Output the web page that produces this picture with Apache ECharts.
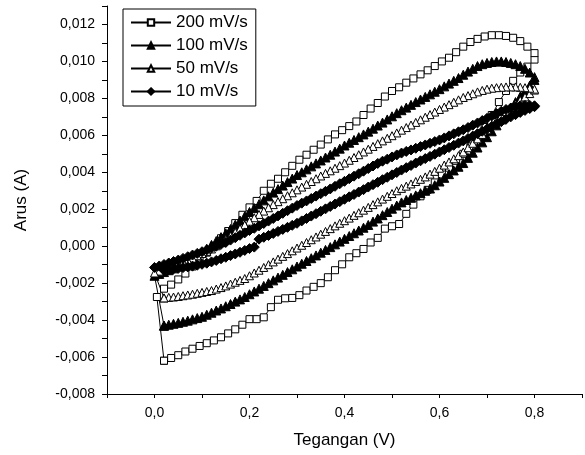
<!DOCTYPE html>
<html>
<head>
<meta charset="utf-8">
<script src="https://cdn.jsdelivr.net/npm/echarts@6/dist/echarts.min.js"></script>
<style>
html,body{margin:0;padding:0;background:#fff;}
#chart{width:585px;height:455px;}
</style>
</head>
<body>
<div id="chart"></div>
<script>
// Series names (legend)
const seriesNames = ['200 mV/s', '100 mV/s', '50 mV/s', '10 mV/s'];

// Potential grids (V)
const vLow200 = [0.020,0.035,0.050,0.065,0.080,0.095,0.110,0.125,0.140,0.155,0.170,0.185,0.200,0.215,0.230,0.245,0.260,0.275,0.290,0.305,0.320,0.335,0.350,0.365,0.380,0.395,0.410,0.425,0.440,0.455,0.470,0.485,0.500,0.515,0.530,0.545,0.560,0.575,0.590,0.605,0.620,0.635,0.650,0.665,0.680,0.695,0.710,0.725,0.740,0.755,0.770,0.785,0.800];
const vUp200 = [0.800,0.785,0.770,0.755,0.740,0.725,0.710,0.695,0.680,0.665,0.650,0.635,0.620,0.605,0.590,0.575,0.560,0.545,0.530,0.515,0.500,0.485,0.470,0.455,0.440,0.425,0.410,0.395,0.380,0.365,0.350,0.335,0.320,0.305,0.290,0.275,0.260,0.245,0.230,0.215,0.200,0.185,0.170,0.155,0.140,0.125,0.110,0.095,0.080,0.065,0.050,0.035,0.020,0.005];
const vLow = [0.02,0.03,0.04,0.05,0.06,0.07,0.08,0.09,0.10,0.11,0.12,0.13,0.14,0.15,0.16,0.17,0.18,0.19,0.20,0.21,0.22,0.23,0.24,0.25,0.26,0.27,0.28,0.29,0.30,0.31,0.32,0.33,0.34,0.35,0.36,0.37,0.38,0.39,0.40,0.41,0.42,0.43,0.44,0.45,0.46,0.47,0.48,0.49,0.50,0.51,0.52,0.53,0.54,0.55,0.56,0.57,0.58,0.59,0.60,0.61,0.62,0.63,0.64,0.65,0.66,0.67,0.68,0.69,0.70,0.71,0.72,0.73,0.74,0.75,0.76,0.77,0.78,0.79,0.80];
const vUp = [0.80,0.79,0.78,0.77,0.76,0.75,0.74,0.73,0.72,0.71,0.70,0.69,0.68,0.67,0.66,0.65,0.64,0.63,0.62,0.61,0.60,0.59,0.58,0.57,0.56,0.55,0.54,0.53,0.52,0.51,0.50,0.49,0.48,0.47,0.46,0.45,0.44,0.43,0.42,0.41,0.40,0.39,0.38,0.37,0.36,0.35,0.34,0.33,0.32,0.31,0.30,0.29,0.28,0.27,0.26,0.25,0.24,0.23,0.22,0.21,0.20,0.19,0.18,0.17,0.16,0.15,0.14,0.13,0.12,0.11,0.10,0.09,0.08,0.07,0.06,0.05,0.04,0.03,0.02,0.01,0.00];

// Currents (mA) — 200 mV/s
const iLow200 = [-6.2,-6.05,-5.9,-5.7,-5.55,-5.4,-5.25,-5.1,-4.93,-4.72,-4.5,-4.25,-3.95,-3.95,-3.85,-3.3,-2.9,-2.82,-2.8,-2.65,-2.4,-2.2,-2.0,-1.68,-1.3,-0.98,-0.6,-0.38,-0.15,0.2,0.45,0.95,1.08,1.2,1.75,2.25,2.7,3.05,3.45,3.88,4.25,4.62,5.0,5.4,5.95,6.45,7.1,7.8,8.4,8.95,9.4,9.72,10.1];
const iUp200 = [10.45,10.8,11.1,11.28,11.38,11.42,11.42,11.35,11.22,11.05,10.8,10.5,10.2,10.0,9.75,9.52,9.3,9.08,8.85,8.6,8.4,8.1,7.75,7.45,7.1,6.75,6.5,6.28,6.05,5.78,5.5,5.22,4.95,4.68,4.35,4.0,3.65,3.38,3.0,2.45,2.1,1.7,1.25,0.82,0.43,0.02,-0.35,-0.72,-1.1,-1.48,-1.8,-2.08,-2.3,-2.75];

// 100 mV/s
const iLow100 = [-4.3,-4.25,-4.2,-4.15,-4.09,-4.03,-3.96,-3.89,-3.82,-3.71,-3.6,-3.48,-3.37,-3.25,-3.13,-3.0,-2.88,-2.75,-2.6,-2.45,-2.3,-2.15,-2.0,-1.85,-1.7,-1.55,-1.4,-1.25,-1.1,-0.95,-0.8,-0.65,-0.5,-0.35,-0.2,-0.05,0.1,0.25,0.4,0.55,0.7,0.85,1.0,1.15,1.33,1.5,1.68,1.85,2.03,2.2,2.37,2.5,2.62,2.75,2.87,3.0,3.12,3.3,3.5,3.7,3.9,4.1,4.3,4.5,4.78,5.06,5.34,5.62,5.9,6.22,6.54,6.86,7.18,7.5,7.8,8.1,8.4,8.7,9.0];
const iUp100 = [9.15,9.4,9.6,9.75,9.85,9.92,9.97,10.0,10.0,9.97,9.92,9.85,9.75,9.6,9.45,9.28,9.1,8.95,8.8,8.65,8.5,8.36,8.22,8.08,7.94,7.8,7.65,7.5,7.36,7.2,7.03,6.86,6.69,6.53,6.36,6.2,6.05,5.9,5.75,5.6,5.45,5.28,5.12,4.95,4.8,4.64,4.48,4.32,4.16,4.0,3.85,3.66,3.47,3.28,3.09,2.9,2.7,2.48,2.27,2.06,1.85,1.62,1.39,1.16,0.93,0.7,0.49,0.28,0.07,-0.14,-0.35,-0.5,-0.65,-0.8,-0.95,-1.1,-1.2,-1.3,-1.4,-1.5,-1.6];

// 50 mV/s
const iLow50 = [-2.8,-2.77,-2.75,-2.72,-2.68,-2.64,-2.6,-2.55,-2.5,-2.45,-2.4,-2.32,-2.24,-2.15,-2.05,-1.95,-1.85,-1.75,-1.6,-1.45,-1.3,-1.15,-1.0,-0.85,-0.7,-0.55,-0.4,-0.25,-0.1,0.05,0.2,0.35,0.5,0.65,0.8,0.95,1.1,1.24,1.38,1.52,1.67,1.81,1.95,2.1,2.25,2.4,2.55,2.7,2.85,3.0,3.13,3.25,3.37,3.5,3.62,3.75,3.9,4.05,4.22,4.39,4.56,4.73,4.9,5.1,5.33,5.57,5.81,6.05,6.3,6.55,6.8,7.05,7.28,7.5,7.7,7.9,8.08,8.26,8.45];
const iUp50 = [8.5,8.55,8.58,8.6,8.62,8.62,8.62,8.6,8.58,8.55,8.5,8.43,8.35,8.25,8.15,8.05,7.92,7.79,7.66,7.53,7.4,7.26,7.12,6.98,6.84,6.7,6.56,6.42,6.28,6.13,5.98,5.84,5.7,5.55,5.4,5.25,5.1,4.95,4.8,4.65,4.5,4.36,4.22,4.08,3.94,3.8,3.65,3.5,3.35,3.2,3.05,2.89,2.73,2.57,2.41,2.25,2.08,1.9,1.72,1.54,1.35,1.15,0.95,0.75,0.55,0.37,0.19,0.02,-0.15,-0.28,-0.4,-0.52,-0.65,-0.75,-0.85,-0.95,-1.05,-1.15,-1.25,-1.35,-1.45];

// 10 mV/s
const iLow10 = [-1.3,-1.27,-1.23,-1.2,-1.16,-1.12,-1.08,-1.03,-0.98,-0.92,-0.85,-0.77,-0.68,-0.6,-0.51,-0.42,-0.33,-0.23,-0.13,-0.05,0.38,0.48,0.58,0.69,0.8,0.91,1.02,1.13,1.24,1.37,1.5,1.63,1.76,1.89,2.02,2.15,2.28,2.41,2.54,2.67,2.8,2.93,3.06,3.2,3.33,3.46,3.6,3.73,3.86,3.99,4.12,4.25,4.37,4.5,4.62,4.74,4.86,4.98,5.1,5.22,5.34,5.46,5.58,5.7,5.83,5.96,6.09,6.22,6.35,6.48,6.61,6.74,6.87,7.0,7.12,7.24,7.35,7.45,7.55];
const iUp10 = [7.6,7.62,7.62,7.6,7.55,7.48,7.4,7.3,7.18,7.05,6.92,6.8,6.67,6.55,6.42,6.3,6.19,6.08,5.97,5.86,5.75,5.66,5.57,5.48,5.39,5.3,5.21,5.13,5.04,4.94,4.83,4.71,4.6,4.48,4.34,4.2,4.06,3.92,3.79,3.65,3.51,3.38,3.24,3.1,2.97,2.84,2.71,2.58,2.45,2.33,2.2,2.06,1.92,1.78,1.64,1.5,1.36,1.23,1.1,0.97,0.85,0.72,0.59,0.46,0.33,0.2,0.1,0.0,-0.1,-0.2,-0.3,-0.39,-0.48,-0.57,-0.66,-0.75,-0.83,-0.91,-0.99,-1.07,-1.15];

function loopData(vl, il, vu, iu) {
  const pts = vl.map((v, k) => [v, il[k]]).concat(vu.map((v, k) => [v, iu[k]]));
  pts.push(pts[0]);
  return pts;
}

const FONT = '"Liberation Sans", Arial, sans-serif';

function mkSeries(name, data, symbol, size, fill) {
  return {
    name: name,
    type: 'line',
    data: data,
    symbol: symbol,
    symbolSize: size,
    showAllSymbol: true,
    sampling: null,
    smooth: false,
    lineStyle: { color: '#000', width: 1 },
    itemStyle: { color: fill, borderColor: '#000', borderWidth: 1 },
    emphasis: { disabled: true },
    animation: false
  };
}

const chart = echarts.init(document.getElementById('chart'), null, { renderer: 'canvas' });
chart.setOption({
  animation: false,
  backgroundColor: '#fff',
  grid: { left: 107, right: 2, top: 6, bottom: 61, containLabel: false },
  legend: {
    orient: 'vertical',
    left: 123,
    top: 9,
    padding: [5, 8, 6, 7],
    itemGap: 6,
    itemWidth: 40,
    itemHeight: 8,
    borderColor: '#000',
    borderWidth: 1,
    borderRadius: 0,
    textStyle: { fontSize: 17, color: '#000', fontFamily: FONT },
    data: seriesNames
  },
  xAxis: {
    type: 'value',
    min: -0.1,
    max: 0.9,
    interval: 0.1,
    name: 'Tegangan (V)',
    nameLocation: 'middle',
    nameGap: 38,
    nameTextStyle: { fontSize: 17, color: '#000', fontFamily: FONT },
    axisLine: { show: true, onZero: false, lineStyle: { color: '#000', width: 1 } },
    axisTick: { show: true, inside: false, length: 4, lineStyle: { color: '#000' } },
    axisLabel: {
      fontSize: 14, color: '#000', fontFamily: FONT, margin: 12,
      formatter: function (v) {
        const k = Math.round(v * 10);
        if (k % 2 !== 0) return '';
        return (k / 10).toFixed(1).replace('.', ',');
      }
    },
    splitLine: { show: false }
  },
  yAxis: {
    type: 'value',
    min: -8,
    max: 13,
    interval: 1,
    name: 'Arus (A)',
    nameLocation: 'middle',
    nameGap: 77,
    nameRotate: 90,
    nameTextStyle: { fontSize: 17, color: '#000', fontFamily: FONT },
    axisLine: { show: true, onZero: false, lineStyle: { color: '#000', width: 1 } },
    axisTick: { show: true, inside: false, length: 5, lineStyle: { color: '#000' } },
    axisLabel: {
      fontSize: 14, color: '#000', fontFamily: FONT, margin: 12,
      formatter: function (v) {
        const k = Math.round(v);
        if (k % 2 !== 0 || k > 12) return '';
        return (k / 1000).toFixed(3).replace('.', ',');
      }
    },
    splitLine: { show: false }
  },
  series: [
    mkSeries(seriesNames[0], loopData(vLow200, iLow200, vUp200, iUp200), 'rect', 7, '#fff'),
    mkSeries(seriesNames[1], loopData(vLow, iLow100, vUp, iUp100), 'triangle', 9, '#000'),
    mkSeries(seriesNames[2], loopData(vLow, iLow50, vUp, iUp50), 'triangle', 8, '#fff'),
    mkSeries(seriesNames[3], loopData(vLow, iLow10, vUp, iUp10), 'diamond', 10, '#000')
  ]
});
</script>
</body>
</html>
